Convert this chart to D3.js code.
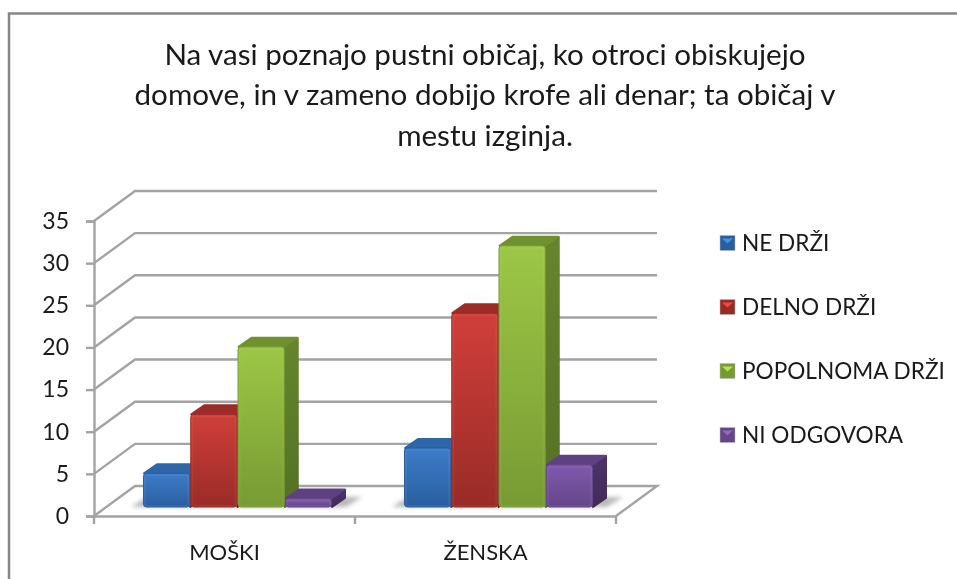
<!DOCTYPE html>
<html lang="en">

<head>
    <meta charset="UTF-8">
    <title>Pustni običaj</title>
    <script src="https://d3js.org/d3.v7.min.js"></script>
    <style>
        body {
            margin: 0;
            background: #fff;
        }

        svg {
            display: block;
            font-family: Lato, "Open Sans", sans-serif;
            fill: #1a1a1a;
            filter: blur(0.5px);
        }
    </style>
</head>

<body>
    <svg width="957" height="579"></svg>
    <script>
        const titleLines = [
            "Na vasi poznajo pustni običaj, ko otroci obiskujejo",
            "domove, in v zameno dobijo krofe ali denar; ta običaj v",
            "mestu izginja."
        ];
        const categories = ["MOŠKI", "ŽENSKA"];
        const seriesNames = ["NE DRŽI", "DELNO DRŽI", "POPOLNOMA DRŽI", "NI ODGOVORA"];
        const neDrzi = [4, 7];
        const delnoDrzi = [11, 23];
        const popolnomaDrzi = [19, 31];
        const niOdgovora = [1, 5];
        const yTicks = [0, 5, 10, 15, 20, 25, 30, 35];

        // front, top and side colours of each series
        const seriesColors = [
            { hi: "#3d7cc9", lo: "#2a5f9e", top: "#2f66a8", side: "#234e82" },
            { hi: "#d03f3a", lo: "#992b27", top: "#9c2c28", side: "#7d2320" },
            { hi: "#9cc746", lo: "#789a33", top: "#6f9130", side: "#5d7a28" },
            { hi: "#8059ab", lo: "#654689", top: "#5e4180", side: "#46305f" }
        ];
        const seriesValues = [neDrzi, delnoDrzi, popolnomaDrzi, niOdgovora];

        const svg = d3.select("svg");
        const gridColor = "#a3a3a3";

        // oblique offsets of the fake 3d box
        const wallDx = 41, wallDy = -30;
        const barDx = 13, barDy = -9;
        const depthDx = 14, depthDy = -10;

        const x0 = d3.scaleBand().domain(categories).range([94, 616]);
        const x1 = d3.scaleBand().domain(seriesNames).range([0, 189]);
        const y = d3.scaleLinear().domain([0, 35]).range([516, 221]);

        // gradients
        const defs = svg.append("defs");
        seriesColors.forEach((c, i) => {
            const g = defs.append("linearGradient").attr("id", "front" + i)
                .attr("x1", 0).attr("y1", 0).attr("x2", 0).attr("y2", 1);
            g.append("stop").attr("offset", "0%").attr("stop-color", c.hi);
            g.append("stop").attr("offset", "100%").attr("stop-color", c.lo);
            const s = defs.append("linearGradient").attr("id", "side" + i)
                .attr("x1", 0).attr("y1", 0).attr("x2", 0).attr("y2", 1);
            s.append("stop").attr("offset", "0%").attr("stop-color", d3.color(c.side).brighter(0.25));
            s.append("stop").attr("offset", "100%").attr("stop-color", d3.color(c.side).darker(0.25));
        });
        const shadow = defs.append("filter").attr("id", "soft")
            .attr("x", "-20%").attr("y", "-100%").attr("width", "140%").attr("height", "300%");
        shadow.append("feGaussianBlur").attr("stdDeviation", 2);

        // chart frame, the right edge is cropped off in the original
        svg.append("path")
            .attr("d", "M9,579V13.5H957")
            .attr("fill", "none")
            .attr("stroke", "#868686")
            .attr("stroke-width", 2.5);

        // title
        svg.append("g").selectAll("text")
            .data(titleLines)
            .enter()
            .append("text")
            .attr("x", 485)
            .attr("y", (d, i) => 64.5 + i * 40.5)
            .attr("text-anchor", "middle")
            .attr("font-size", 29.6)
            .text(d => d);

        // back wall gridlines + side wall slants
        const grid = svg.append("g")
            .attr("fill", "none")
            .attr("stroke", gridColor)
            .attr("stroke-width", 2.4);
        yTicks.forEach(t => {
            if (t > 0) {
                grid.append("path").attr("d",
                    `M94,${y(t)}L${94 + wallDx},${y(t) + wallDy}H${616 + wallDx}`);
            }
        });

        // floor
        grid.append("path")
            .attr("d", `M94,${y(0)}L${94 + wallDx},${y(0) + wallDy}H${616 + wallDx}L616,${y(0)}`);

        // y axis
        const yAxis = d3.axisLeft(y).tickValues(yTicks).tickSize(8).tickPadding(17);
        const yG = svg.append("g").attr("transform", "translate(94,0)").call(yAxis);

        // x axis
        const xAxis = d3.axisBottom(x0).tickValues([]).tickSizeOuter(0);
        const xG = svg.append("g").attr("transform", `translate(0,${y(0)})`).call(xAxis);
        xG.selectAll(".tickmark")
            .data([94, 355, 616])
            .enter()
            .append("line")
            .attr("x1", d => d).attr("x2", d => d)
            .attr("y1", 0).attr("y2", 8);

        [yG, xG].forEach(g => {
            g.selectAll("path, line").attr("stroke", gridColor).attr("stroke-width", 2.4);
            g.selectAll("text").attr("fill", "#1a1a1a").attr("font-size", 23).attr("font-family", "Lato, sans-serif");
        });

        svg.append("g").selectAll("text")
            .data(categories)
            .enter()
            .append("text")
            .attr("x", d => x0(d) + x0.bandwidth() / 2)
            .attr("y", 560)
            .attr("text-anchor", "middle")
            .attr("font-size", 22)
            .text(d => d);

        // bars, drawn series by series so each one overlaps the shadow of the last
        const bars = svg.append("g");
        categories.forEach((cat, ci) => {
            const left = x0(cat) + (x0.bandwidth() - x1.range()[1]) / 2 + barDx;

            bars.append("path")
                .attr("d", `M${left - 12},${y(0) + barDy}L${left + 4},${y(0) + barDy - 10}H${left + 189 + 30}L${left + 189 + 14},${y(0) + barDy}Z`)
                .attr("fill", "#8a8a8a")
                .attr("opacity", 0.6)
                .attr("filter", "url(#soft)");

            seriesNames.forEach((name, si) => {
                const bx = left + x1(name);
                const bw = x1.bandwidth();
                const base = y(0) + barDy;
                const top = y(seriesValues[si][ci]) + barDy;
                const g = bars.append("g");

                // side face, top face, then the bevelled front
                g.append("path")
                    .attr("d", `M${bx + bw},${top}l${depthDx - 1},${depthDy + 1}V${base + depthDy + 1}l${-depthDx + 1},${-depthDy - 1}Z`)
                    .attr("fill", `url(#side${si})`)
                    .attr("stroke", `url(#side${si})`)
                    .attr("stroke-width", 2)
                    .attr("stroke-linejoin", "round");
                g.append("path")
                    .attr("d", `M${bx + 1},${top}l${depthDx - 1},${depthDy + 1}H${bx + bw + depthDx - 2}l${-depthDx + 1},${-depthDy - 1}Z`)
                    .attr("fill", seriesColors[si].top)
                    .attr("stroke", seriesColors[si].top)
                    .attr("stroke-width", 2)
                    .attr("stroke-linejoin", "round");
                g.append("rect")
                    .attr("x", bx + 0.5).attr("y", top)
                    .attr("width", bw - 1).attr("height", base - top)
                    .attr("rx", 3)
                    .attr("fill", `url(#front${si})`)
                    .attr("stroke", seriesColors[si].lo)
                    .attr("stroke-width", 1);
                g.append("rect")
                    .attr("x", bx + 2).attr("y", top + 2)
                    .attr("width", bw - 4).attr("height", base - top - 3)
                    .attr("rx", 2)
                    .attr("fill", "none")
                    .attr("stroke", "#fff")
                    .attr("stroke-opacity", 0.05)
                    .attr("stroke-width", 2);
            });
        });

        // legend
        const legend = svg.append("g").selectAll("g")
            .data(seriesNames)
            .enter()
            .append("g")
            .attr("transform", (d, i) => `translate(720,${235.5 + i * 64})`);
        legend.append("rect")
            .attr("width", 15).attr("height", 15)
            .attr("fill", (d, i) => seriesColors[i].lo)
            .attr("stroke", "#bbb")
            .attr("stroke-width", 0.5);
        legend.append("path")
            .attr("d", "M2,3H13L7.5,8Z")
            .attr("fill", (d, i) => d3.color(seriesColors[i].hi).brighter(0.4));
        legend.append("text")
            .attr("x", 22)
            .attr("y", 15.5)
            .attr("font-size", 22.6)
            .text(d => d);
    </script>
</body>

</html>
